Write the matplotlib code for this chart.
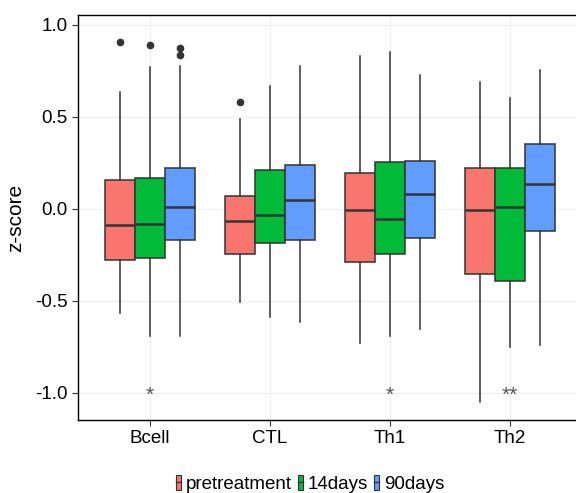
import matplotlib
matplotlib.use("Agg")
import matplotlib.pyplot as plt
from matplotlib.patches import Patch
from matplotlib.lines import Line2D

plt.rcParams['font.family'] = ['Liberation Sans', 'DejaVu Sans']

cells = ['Bcell', 'CTL', 'Th1', 'Th2']
groups = ['pretreatment', '14days', '90days']
colors = ['#F8766D', '#00BA38', '#619CFF']

# per group: one value per cell type
q1 = {
    'pretreatment': [-0.275, -0.246, -0.290, -0.351],
    '14days':       [-0.268, -0.187, -0.246, -0.389],
    '90days':       [-0.167, -0.167, -0.156, -0.118],
}
med = {
    'pretreatment': [-0.089, -0.065, -0.005, -0.005],
    '14days':       [-0.080, -0.034, -0.056, 0.009],
    '90days':       [0.009, 0.047, 0.082, 0.136],
}
q3 = {
    'pretreatment': [0.158, 0.072, 0.197, 0.221],
    '14days':       [0.167, 0.214, 0.254, 0.221],
    '90days':       [0.224, 0.241, 0.259, 0.355],
}
whis_lo = {
    'pretreatment': [-0.564, -0.504, -0.728, -1.051],
    '14days':       [-0.688, -0.585, -0.692, -0.752],
    '90days':       [-0.692, -0.616, -0.652, -0.741],
}
whis_hi = {
    'pretreatment': [0.636, 0.489, 0.830, 0.692],
    '14days':       [0.772, 0.667, 0.851, 0.605],
    '90days':       [0.775, 0.779, 0.730, 0.754],
}
outliers = {
    'pretreatment': [[0.906], [0.583], [], []],
    '14days':       [[0.889], [], [], []],
    '90days':       [[0.877, 0.839], [], [], []],
}
signif = ['*', '', '*', '**']

fig = plt.figure(figsize=(5.76, 4.93), dpi=100)
ax = fig.add_axes([78/576, 1 - 420/493, 504/576, 405/493])

edge = '#333333'
offsets = [-0.25, 0.0, 0.25]
for g, col, off in zip(groups, colors, offsets):
    stats = []
    for i in range(len(cells)):
        stats.append(dict(med=med[g][i], q1=q1[g][i], q3=q3[g][i],
                          whislo=whis_lo[g][i], whishi=whis_hi[g][i],
                          fliers=outliers[g][i]))
    pos = [i + 1 + off for i in range(len(cells))]
    ax.bxp(stats, positions=pos, widths=0.25, patch_artist=True, showcaps=False,
           boxprops=dict(facecolor=col, edgecolor=edge, linewidth=1.1),
           medianprops=dict(color=edge, linewidth=1.8),
           whiskerprops=dict(color=edge, linewidth=1.1),
           flierprops=dict(marker='o', markerfacecolor=edge, markeredgecolor=edge,
                           markersize=4.5),
           manage_ticks=False, zorder=3)

# significance stars along the bottom
for i, s in enumerate(signif):
    if s:
        ax.text(i + 1, -1.012, s, ha='center', va='center', fontsize=15,
                color='#555555')

ax.set_xlim(0.4, 4.6)
ax.set_ylim(-1.147, 1.054)
ax.set_xticks(range(1, len(cells) + 1))
ax.set_xticklabels(cells)
ax.set_yticks([-1.0, -0.5, 0.0, 0.5, 1.0])
ax.set_yticklabels(['-1.0', '-0.5', '0.0', '0.5', '1.0'])
ax.tick_params(labelsize=13.5, length=4, color=edge, labelcolor='black')
ax.set_ylabel('z-score', fontsize=15)
ax.yaxis.set_label_coords(-0.105, 0.5)
ax.grid(True, color='#EEEEEE', linewidth=0.8, zorder=0)
ax.set_axisbelow(True)
for sp in ax.spines.values():
    sp.set_color('black')
    sp.set_linewidth(1.0)

handles = [(Patch(facecolor=c, edgecolor=edge, linewidth=0.8),
            Line2D([], [], color=edge, linewidth=1.0)) for c in colors]
fig.legend(handles, groups, loc='center', bbox_to_anchor=(310/576, 1 - 484/493),
           ncol=3, frameon=False, fontsize=13.5, handlelength=0.3, handleheight=0.8,
           handletextpad=0.25, columnspacing=0.3, borderaxespad=0)

fig.savefig('out.png', dpi=100)
